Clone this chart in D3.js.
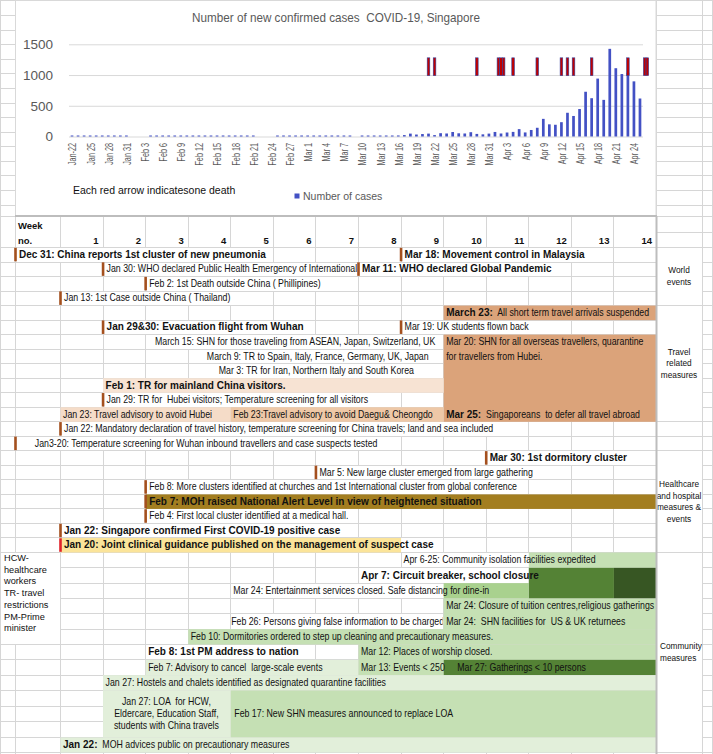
<!DOCTYPE html>
<html>
<head>
<meta charset="utf-8">
<script src="https://cdn.jsdelivr.net/npm/d3@7"></script>
<style>
  body { margin: 0; background: #fff; }
  svg { display: block; font-family: "Liberation Sans", Arial, sans-serif; }
</style>
</head>
<body>
<div id="sheet"></div>
<script>
const W = 713, H = 754;

// daily new confirmed cases, starting Jan 22 2020
const firstDay = '2020-01-22';
const newCases = [
  1, 1, 2, 1, 1, 1, 2, 1, 3, 3,
  0, 0, 0, 6, 4, 2, 3, 7, 3, 2, 2, 3, 8, 9, 5, 3, 2, 4, 3, 1, 1, 0, 0, 0, 2, 2, 3, 2, 4,
  4, 2, 2, 2, 5, 13, 8, 12, 0, 10, 12, 9, 13, 12, 14, 17, 23, 47, 32, 40, 47, 23, 54, 49, 73, 52, 49, 70, 42, 35, 47,
  74, 49, 65, 75, 120, 66, 106, 142, 287, 198, 191, 233, 386, 334, 447, 728, 623, 942, 596, 1426, 1111, 1016, 1037, 897, 618
];
const dateLabels = ['Jan-22', 'Jan 25', 'Jan 28', 'Jan 31', 'Feb 3', 'Feb 6', 'Feb 9', 'Feb 12', 'Feb 15', 'Feb 18',
  'Feb 21', 'Feb 24', 'Feb 27', 'Mar 1', 'Mar 4', 'Mar 7', 'Mar 10', 'Mar 13', 'Mar 16', 'Mar 19', 'Mar 22',
  'Mar 25', 'Mar 28', 'Mar 31', 'Apr 3', 'Apr 6', 'Apr 9', 'Apr 12', 'Apr 15', 'Apr 18', 'Apr 21', 'Apr 24'];
const caseTicks = [0, 500, 1000, 1500];
// one red arrow per death
const deathDates = ['Mar 21', 'Mar 22', 'Mar 29', 'Apr 2', 'Apr 2', 'Apr 2', 'Apr 4', 'Apr 8', 'Apr 12',
  'Apr 13', 'Apr 14', 'Apr 17', 'Apr 23', 'Apr 26', 'Apr 26'];

const weekNos = [1, 2, 3, 4, 5, 6, 7, 8, 9, 10, 11, 12, 13, 14];

// r = sheet row, wk = week column, b = bold text, t = normal text
const worldEvents = [
  { r: 0, wk: 0, mark: 'brown', b: 'Dec 31: China reports 1st cluster of new pneumonia' },
  { r: 0, wk: 9, mark: 'brown', b: 'Mar 18: Movement control in Malaysia' },
  { r: 1, wk: 2, mark: 'brown', t: 'Jan 30: WHO declared Public Health Emergency of International', clip: 8 },
  { r: 1, wk: 8, mark: 'brown', b: 'Mar 11: WHO declared Global Pandemic' },
  { r: 2, wk: 3, mark: 'brown', t: 'Feb 2: 1st Death outside China ( Phillipines)' },
  { r: 3, wk: 1, mark: 'brown', t: 'Jan 13: 1st Case outside China ( Thailand)' }
];
const travelEvents = [
  { r: 4, wk: 10, b: 'March 23:', t: '  All short term travel arrivals suspended' },
  { r: 5, wk: 2, mark: 'brown', b: 'Jan 29&30: Evacuation flight from Wuhan' },
  { r: 5, wk: 9, mark: 'brown', t: 'Mar 19: UK students flown back' },
  { r: 6, at: 3.23, t: 'March 15: SHN for those traveling from ASEAN, Japan, Switzerland, UK' },
  { r: 6, wk: 10, t: 'Mar 20: SHN for all overseas travellers, quarantine' },
  { r: 7, wk: 10, t: 'for travellers from Hubei.' },
  { r: 7, at: 4.45, t: 'March 9: TR to Spain, Italy, France, Germany, UK, Japan' },
  { r: 8, at: 4.73, t: 'Mar 3: TR for Iran, Northern Italy and South Korea' },
  { r: 9, wk: 2, b: 'Feb 1: TR for mainland China visitors.' },
  { r: 10, wk: 2, mark: 'brown', t: 'Jan 29: TR for  Hubei visitors; Temperature screening for all visitors' },
  { r: 11, wk: 1, t: 'Jan 23: Travel advisory to avoid Hubei' },
  { r: 11, wk: 5, t: 'Feb 23:Travel advisory to avoid Daegu& Cheongdo' },
  { r: 11, wk: 10, b: 'Mar 25:', t: '  Singaporeans  to defer all travel abroad' },
  { r: 12, wk: 1, mark: 'brown', t: 'Jan 22: Mandatory declaration of travel history, temperature screening for China travels; land and sea included' },
  { r: 13, wk: 0, mark: 'brown', at: 0.44, t: 'Jan3-20: Temperature screening for Wuhan inbound travellers and case suspects tested' }
];
const healthEvents = [
  { r: 14, wk: 11, mark: 'brown', b: 'Mar 30: 1st dormitory cluster' },
  { r: 15, wk: 7, mark: 'brown', t: 'Mar 5: New large cluster emerged from large gathering' },
  { r: 16, wk: 3, mark: 'brown', t: 'Feb 8: More clusters identified at churches and 1st International cluster from global conference' },
  { r: 17, wk: 3, mark: 'brown', b: 'Feb 7: MOH raised National Alert Level in view of heightened situation' },
  { r: 18, wk: 3, mark: 'brown', t: 'Feb 4: First local cluster identified at a medical hall.' },
  { r: 19, wk: 1, mark: 'brown', b: 'Jan 22: Singapore confirmed First COVID-19 positive case' },
  { r: 20, wk: 1, mark: 'red', b: 'Jan 20: Joint clinical guidance published on the management of suspect case' }
];
const communityEvents = [
  { r: 21, wk: 9, t: 'Apr 6-25: Community isolation facilities expedited' },
  { r: 22, wk: 8, b: 'Apr 7: Circuit breaker, school closure' },
  { r: 23, wk: 5, t: 'Mar 24: Entertainment services closed. Safe distancing for dine-in' },
  { r: 24, wk: 10, t: 'Mar 24: Closure of tuition centres,religious gatherings', clip: 15 },
  { r: 25, at: 5.02, t: 'Feb 26: Persons giving false information to be charged', clip: 10 },
  { r: 25, wk: 10, t: 'Mar 24:  SHN facilities for  US & UK returnees' },
  { r: 26, wk: 4, t: 'Feb 10: Dormitories ordered to step up cleaning and precautionary measures.' },
  { r: 27, wk: 3, b: 'Feb 8: 1st PM address to nation' },
  { r: 27, wk: 8, t: 'Mar 12: Places of worship closed.' },
  { r: 28, wk: 3, t: 'Feb 7: Advisory to cancel  large-scale events' },
  { r: 28, wk: 8, t: 'Mar 13: Events < 250' },
  { r: 28, at: 10.33, t: 'Mar 27: Gatherings < 10 persons' },
  { r: 29, wk: 2, t: 'Jan 27: Hostels and chalets identified as designated quarantine facilities' },
  { r: 33, wk: 1, b: 'Jan 22:', t: '  MOH advices public on precautionary measures' }
];
// shaded cells: rows r..r+n, weeks from..to
const shaded = [
  { r: 4, n: 1, from: 10, to: 15, tone: 'orange' },
  { r: 6, n: 6, from: 10, to: 15, tone: 'orange' },
  { r: 9, n: 1, from: 2, to: 10, tone: 'peach' },
  { r: 11, n: 1, from: 1, to: 5, tone: 'sand' },
  { r: 11, n: 1, from: 5, to: 10, tone: 'tan' },
  { r: 17, n: 1, from: 3, to: 15, tone: 'olive' },
  { r: 20, n: 1, from: 1, to: 9, tone: 'yellow' },
  { r: 21, n: 1, from: 12, to: 15, tone: 'green' },
  { r: 22, n: 2, from: 12, to: 14, tone: 'dark' },
  { r: 22, n: 2, from: 14, to: 15, tone: 'darkest' },
  { r: 23, n: 1, from: 10, to: 12, tone: 'mid' },
  { r: 24, n: 2, from: 10, to: 15, tone: 'green' },
  { r: 26, n: 1, from: 4, to: 15, tone: 'green' },
  { r: 27, n: 1, from: 8, to: 15, tone: 'green' },
  { r: 28, n: 1, from: 3, to: 8, tone: 'pale' },
  { r: 28, n: 1, from: 8, to: 10, tone: 'green' },
  { r: 28, n: 1, from: 10, to: 15, tone: 'dark' },
  { r: 29, n: 1, from: 2, to: 15, tone: 'pale' },
  { r: 30, n: 3, from: 2, to: 5, tone: 'pale' },
  { r: 30, n: 3, from: 5, to: 15, tone: 'green' },
  { r: 33, n: 1, from: 1, to: 15, tone: 'pale' }
];
const blockNotes = [
  { r0: 30, r1: 33, from: 2, to: 5, centre: true, lines: ['Jan 27: LOA  for HCW,', 'Eldercare, Education Staff,', 'students with China travels'] },
  { r0: 30, r1: 33, from: 5, to: 15, lines: ['Feb 17: New SHN measures announced to replace LOA'] }
];
const sectionLabels = [
  { r0: 0, r1: 4, lines: ['World', 'events'] },
  { r0: 4, r1: 12, lines: ['Travel', 'related', 'measures'] },
  { r0: 14, r1: 21, lines: ['Healthcare', 'and hospital', 'measures &', 'events'] },
  { r0: 21, r1: 34, lines: ['Community', 'measures'], left: true }
];
const abbrevNote = ['HCW-', 'healthcare', 'workers', 'TR- travel', 'restrictions', 'PM-Prime', 'minister'];

const tone = d3.scaleOrdinal()
  .domain(['orange', 'peach', 'sand', 'tan', 'olive', 'yellow', 'green', 'pale', 'mid', 'dark', 'darkest'])
  .range(['#dba37a', '#f7e3d3', '#f5dcc8', '#eec8a7', '#a37e20', '#fbe49a', '#c5e0b4', '#e2efda', '#a9d18e', '#548235', '#375623']);
const markColor = { brown: '#a4501e', red: '#e0232b' };
const GRID = '#d6d6d6';
const NARROW = 0.88;

// sheet geometry
const colX = d3.scaleLinear().domain([-1, 0, 1, 15, 16, 17]).range([0, 15, 60, 656, 702, 713]);
const rowY = d3.scaleLinear().domain([-17, -3, -2, 0, 21, 30, 33, 34]).range([0.4, 204.6, 216, 247, 552, 690, 737, 752]);

const svg = d3.select('#sheet')
  .append('svg')
  .attr('width', W)
  .attr('height', H);
const defs = svg.append('defs');

// spreadsheet grid
const grid = svg.append('g').attr('stroke', GRID).attr('stroke-width', 1);
d3.range(-1, 18).forEach((c) => {
  const x = Math.min(Math.round(colX(c)) + 0.5, W - 0.5);
  grid.append('line').attr('x1', x).attr('x2', x).attr('y1', 0).attr('y2', H);
});
d3.range(-17, 35).forEach((r) => {
  const y = Math.round(rowY(r)) + 0.5;
  if (r === -1) {
    grid.append('line').attr('x1', colX(15)).attr('x2', W).attr('y1', y).attr('y2', y);
  } else {
    grid.append('line').attr('x1', 0).attr('x2', W).attr('y1', y).attr('y2', y);
  }
});

// ---------- chart ----------
const chart = svg.append('g');
chart.append('rect')
  .attr('x', 15.5).attr('y', 0.5)
  .attr('width', colX(15) - 15.5).attr('height', 215)
  .attr('fill', '#fff').attr('stroke', '#d9d9d9');

chart.append('text')
  .attr('transform', 'translate(336,22) scale(0.9,1)')
  .attr('text-anchor', 'middle')
  .attr('font-size', 13)
  .attr('fill', '#595959')
  .style('white-space', 'pre')
  .text('Number of new confirmed cases  COVID-19, Singapore');

const day0 = d3.utcParse('%Y-%m-%d')(firstDay);
const days = newCases.map((v, i) => ({ date: d3.utcDay.offset(day0, i), v }));
const x = d3.scaleUtc()
  .domain([day0, d3.utcDay.offset(day0, newCases.length)])
  .range([69, 643]);
const bw = x(d3.utcDay.offset(day0, 1)) - x(day0);
const y = d3.scaleLinear().domain([0, 1500]).range([136.5, 44.3]);

chart.append('g')
  .attr('transform', 'translate(69,0)')
  .call(d3.axisLeft(y).tickValues(caseTicks).tickFormat(d3.format('d')).tickSize(-(643 - 69)).tickPadding(16))
  .attr('font-family', '"Liberation Sans", Arial, sans-serif')
  .attr('font-size', 13.5)
  .call((g) => g.select('.domain').remove())
  .call((g) => g.selectAll('.tick line').attr('stroke', '#d9d9d9'))
  .call((g) => g.selectAll('.tick text').attr('fill', '#595959'));

const tickDates = dateLabels.map((_, i) => d3.utcDay.offset(day0, i * 3));
chart.append('g')
  .attr('transform', `translate(${bw / 2},${y(0)})`)
  .call(d3.axisBottom(x).tickValues(tickDates).tickFormat((d, i) => dateLabels[i]).tickSize(0))
  .attr('font-family', '"Liberation Sans", Arial, sans-serif')
  .attr('font-size', 11)
  .call((g) => g.select('.domain').remove())
  .call((g) => g.selectAll('.tick text')
    .attr('fill', '#595959')
    .attr('text-anchor', 'end')
    .attr('transform', 'rotate(-90) scale(0.66,1)')
    .attr('x', -6.5 / 0.66)
    .attr('y', 0)
    .attr('dy', '0.35em'));

chart.append('g')
  .selectAll('rect')
  .data(days)
  .join('rect')
  .attr('x', (d) => x(d.date) + bw / 2 - 1.35)
  .attr('width', 2.7)
  .attr('y', (d) => (d.v > 0 ? Math.min(y(d.v), y(0) - 1) : y(0)))
  .attr('height', (d) => (d.v > 0 ? Math.max(y(0) - y(d.v), 1) : 0))
  .attr('fill', '#4351c4');

const parseDeath = d3.utcParse('%b %d %Y');
const deaths = d3.groups(deathDates, (s) => s).map(([s, list]) => ({ date: parseDeath(s + ' 2020'), n: list.length }));
const arrows = deaths.flatMap((d) => d3.range(d.n).map((k) => ({ cx: x(d.date) + bw / 2 + (k - (d.n - 1) / 2) * 2.6 })));
chart.append('g')
  .selectAll('rect')
  .data(arrows)
  .join('rect')
  .attr('x', (d) => d.cx - 1.3)
  .attr('width', 2.6)
  .attr('y', y(1280))
  .attr('height', y(990) - y(1280))
  .attr('fill', '#c00000')
  .attr('stroke', '#2e3e9e')
  .attr('stroke-width', 0.6);

chart.append('text')
  .attr('x', 73).attr('y', 194)
  .attr('font-size', 10.5)
  .attr('fill', '#111')
  .text('Each red arrow indicatesone death');
chart.append('rect')
  .attr('x', 294.5).attr('y', 193.5).attr('width', 5).attr('height', 5)
  .attr('fill', '#4351c4');
chart.append('text')
  .attr('x', 303).attr('y', 200)
  .attr('font-size', 10.5)
  .attr('fill', '#595959')
  .text('Number of cases');

// ---------- timeline table ----------
const coverLayer = svg.append('g');
const fillLayer = svg.append('g');
const cellLayer = svg.append('g');
const markLayer = svg.append('g');
const textLayer = svg.append('g').attr('fill', '#111');

function writeLine(g, tx, base, lead, rest) {
  const grp = g.append('g').attr('transform', `translate(${tx},${base})`);
  let w = 0;
  if (lead) {
    const n = grp.append('text')
      .attr('font-weight', 'bold')
      .attr('font-size', 10)
      .style('white-space', 'pre')
      .text(lead);
    w = n.node().getComputedTextLength();
  }
  if (rest) {
    const n = grp.append('text')
      .attr('font-size', 10)
      .style('white-space', 'pre')
      .attr('transform', `translate(${w},0) scale(${NARROW},1)`)
      .text(rest);
    w += n.node().getComputedTextLength() * NARROW;
  }
  return w;
}

// header
textLayer.append('text').attr('x', 18).attr('y', 229).attr('font-size', 9.5).attr('font-weight', 'bold').text('Week');
textLayer.append('text').attr('x', 18).attr('y', 243.5).attr('font-size', 9.5).attr('font-weight', 'bold').text('no.');
textLayer.append('g')
  .selectAll('text')
  .data(weekNos)
  .join('text')
  .attr('x', (d) => colX(d + 1) - 4)
  .attr('y', 243.5)
  .attr('text-anchor', 'end')
  .attr('font-size', 9.5)
  .attr('font-weight', 'bold')
  .text((d) => d);

// shaded cells
fillLayer.selectAll('rect')
  .data(shaded)
  .join('rect')
  .attr('x', (d) => colX(d.from) + 0.5)
  .attr('y', (d) => rowY(d.r) + 0.5)
  .attr('width', (d) => colX(d.to) - colX(d.from))
  .attr('height', (d) => rowY(d.r + d.n) - rowY(d.r))
  .attr('fill', (d) => tone(d.tone));

// events
const allEvents = worldEvents.concat(travelEvents, healthEvents, communityEvents);
allEvents.forEach((e, i) => {
  const tx = e.at != null ? colX(e.at) : colX(e.wk) + (e.mark ? 4 : 3);
  const top = rowY(e.r);
  const bot = rowY(e.r + 1);
  const base = (top + bot) / 2 + 3.6;
  let holder = textLayer;
  if (e.clip != null) {
    const id = 'clip' + i;
    defs.append('clipPath').attr('id', id)
      .append('rect')
      .attr('x', 0).attr('y', top)
      .attr('width', colX(e.clip) - 0.5).attr('height', bot - top);
    holder = textLayer.append('g').attr('clip-path', `url(#${id})`);
  }
  const w = writeLine(holder, tx, base, e.b, e.t);
  const end = Math.min(tx + w, e.clip != null ? colX(e.clip) : Infinity);
  const c0 = colX(Math.floor(colX.invert(tx) + 1e-6));
  const c1 = colX(Math.ceil(colX.invert(end) - 1e-6));
  coverLayer.append('rect')
    .attr('x', Math.round(c0) + 1)
    .attr('y', Math.round(top) + 1)
    .attr('width', Math.max(Math.round(c1) - Math.round(c0) - 1, 0))
    .attr('height', Math.round(bot) - Math.round(top) - 1)
    .attr('fill', '#fff');
  if (e.mark) {
    markLayer.append('rect')
      .attr('x', colX(e.wk) - 0.8)
      .attr('y', top + 0.8)
      .attr('width', 2.6)
      .attr('height', bot - top - 1)
      .attr('fill', markColor[e.mark]);
  }
});

// multi-line notes inside shaded blocks
blockNotes.forEach((n) => {
  const mid = (rowY(n.r0) + rowY(n.r1)) / 2;
  const tx = n.centre ? (colX(n.from) + colX(n.to)) / 2 : colX(n.from) + 4;
  n.lines.forEach((line, k) => {
    textLayer.append('text')
      .attr('transform', `translate(${tx},${mid + (k - (n.lines.length - 1) / 2) * 11.7 + 3.6}) scale(${NARROW},1)`)
      .attr('text-anchor', n.centre ? 'middle' : 'start')
      .attr('font-size', 10)
      .style('white-space', 'pre')
      .text(line);
  });
});

// section label cells
sectionLabels.forEach((s) => {
  const top = rowY(s.r0), bot = rowY(s.r1);
  cellLayer.append('rect')
    .attr('x', Math.round(colX(15)) + 0.5).attr('y', Math.round(top) + 0.5)
    .attr('width', Math.round(colX(16)) - Math.round(colX(15)))
    .attr('height', Math.round(bot) - Math.round(top))
    .attr('fill', '#fff').attr('stroke', GRID);
  const mid = (top + bot) / 2;
  const tx = s.left ? colX(15) + 4 : (colX(15) + colX(16)) / 2;
  s.lines.forEach((line, k) => {
    textLayer.append('text')
      .attr('transform', `translate(${tx},${mid + (k - (s.lines.length - 1) / 2) * 11.7 + 3.2}) scale(0.9,1)`)
      .attr('text-anchor', s.left ? 'start' : 'middle')
      .attr('font-size', 9.2)
      .text(line);
  });
});

// abbreviations note
cellLayer.append('rect')
  .attr('x', 0.5).attr('y', Math.round(rowY(21)) + 0.5)
  .attr('width', Math.round(colX(1)))
  .attr('height', Math.round(rowY(27)) - Math.round(rowY(21)))
  .attr('fill', '#fff').attr('stroke', GRID);
textLayer.append('g')
  .selectAll('text')
  .data(abbrevNote)
  .join('text')
  .attr('x', 4)
  .attr('y', (d, k) => rowY(21) + 9 + k * 11.7)
  .attr('font-size', 9.2)
  .text((d) => d);

// table borders
svg.append('line')
  .attr('x1', colX(0)).attr('x2', colX(15) + 1)
  .attr('y1', rowY(-2)).attr('y2', rowY(-2))
  .attr('stroke', '#bdbdbd').attr('stroke-width', 2);
svg.append('line')
  .attr('x1', colX(15) + 0.5).attr('x2', colX(15) + 0.5)
  .attr('y1', rowY(-2)).attr('y2', H)
  .attr('stroke', '#bdbdbd').attr('stroke-width', 2);
</script>
</body>
</html>
